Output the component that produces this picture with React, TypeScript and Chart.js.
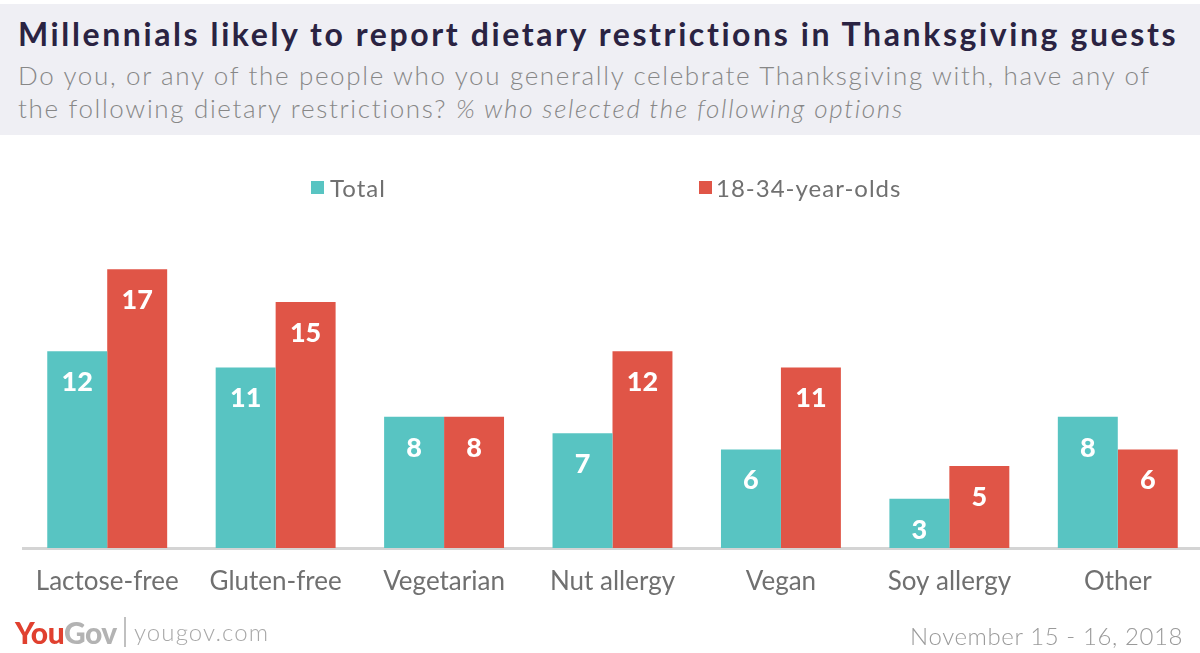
import React, { useEffect, useRef } from "react";
import { Chart, registerables } from "chart.js";

Chart.register(...registerables);

const categories = ["Lactose-free", "Gluten-free", "Vegetarian", "Nut allergy", "Vegan", "Soy allergy", "Other"];
const totalValues = [12, 11, 8, 7, 6, 3, 8];
const youngValues = [17, 15, 8, 12, 11, 5, 6];
const seriesNames = ["Total", "18-34-year-olds"];

const TEAL = "#58c4c2";
const RED = "#e05547";
const FONT = "Lato, 'Open Sans', sans-serif";

const valueLabels = {
  id: "valueLabels",
  afterDatasetsDraw(chart: any) {
    const ctx = chart.ctx;
    ctx.save();
    ctx.fillStyle = "#ffffff";
    ctx.font = `900 27px ${FONT}`;
    ctx.textAlign = "center";
    ctx.textBaseline = "middle";
    chart.data.datasets.forEach((ds: any, i: number) => {
      const meta = chart.getDatasetMeta(i);
      meta.data.forEach((bar: any, j: number) => {
        ctx.fillText(String(ds.data[j]), bar.x, bar.y + 31);
      });
    });
    ctx.restore();
  },
};

export default function App() {
  const ref = useRef<HTMLCanvasElement | null>(null);
  useEffect(() => {
    if (!ref.current) return;
    const chart = new Chart(ref.current, {
      type: "bar",
      data: {
        labels: categories,
        datasets: [
          { label: seriesNames[0], data: totalValues, backgroundColor: TEAL, borderWidth: 0 },
          { label: seriesNames[1], data: youngValues, backgroundColor: RED, borderWidth: 0 },
        ],
      },
      options: {
        responsive: false,
        animation: false,
        layout: { padding: { top: 220, left: 23, right: 0, bottom: 45 } },
        datasets: { bar: { categoryPercentage: 0.712, barPercentage: 1 } },
        plugins: { legend: { display: false }, tooltip: { enabled: false } },
        scales: {
          x: {
            grid: { display: false },
            border: { display: true, color: "#d4d4d4", width: 3 },
            ticks: { color: "#707070", font: { family: FONT, size: 26, weight: "normal" }, padding: 10 },
            afterFit: (s: any) => { s.height = 60; },
          },
          y: { display: false, min: 0, max: 20 },
        },
      },
      plugins: [valueLabels],
    });
    return () => chart.destroy();
  }, []);

  return (
    <div style={{ position: "fixed", left: 0, top: 0, width: 1200, height: 653, overflow: "hidden", background: "#fff", fontFamily: FONT }}>
      <div style={{ position: "absolute", left: 0, top: 4, width: 1200, height: 131, background: "#efeff4" }} />
      <div style={{ position: "absolute", left: 18, top: 12, fontSize: 32, fontWeight: 700, color: "#2a2342", whiteSpace: "nowrap", lineHeight: "44px", letterSpacing: 2.6 }}>
        Millennials likely to report dietary restrictions in Thanksgiving guests
      </div>
      <div style={{ position: "absolute", left: 18, top: 59, width: 1190, fontSize: 26, fontWeight: 300, color: "#878787", lineHeight: "33px", letterSpacing: 1.65, whiteSpace: "nowrap" }}>
        Do you, or any of the people who you generally celebrate Thanksgiving with, have any of<br />
        the following dietary restrictions? <i>% who selected the following options</i>
      </div>
      <canvas ref={ref} width={1202} height={653} style={{ position: "absolute", left: 0, top: 0, width: 1202, height: 653 }} />
      <div style={{ position: "absolute", left: 311, top: 173, fontSize: 24, color: "#707070", whiteSpace: "nowrap", display: "flex", alignItems: "center", letterSpacing: 1 }}>
        <span style={{ display: "inline-block", width: 13, height: 13, background: TEAL, marginRight: 6 }} />
        <span>{seriesNames[0]}</span>
      </div>
      <div style={{ position: "absolute", left: 699, top: 173, fontSize: 24, color: "#707070", whiteSpace: "nowrap", display: "flex", alignItems: "center", letterSpacing: 1 }}>
        <span style={{ display: "inline-block", width: 13, height: 13, background: RED, marginRight: 4 }} />
        <span>{seriesNames[1]}</span>
      </div>
      <div style={{ position: "absolute", left: 15, top: 614, fontSize: 30, fontWeight: 900, whiteSpace: "nowrap", letterSpacing: -0.5, lineHeight: "36px" }}>
        <span style={{ color: "#e0402f" }}>You</span><span style={{ color: "#b3b3b3" }}>Gov</span>
      </div>
      <div style={{ position: "absolute", left: 124, top: 617, width: 2, height: 30, background: "#c0c0c0" }} />
      <div style={{ position: "absolute", left: 134, top: 614, fontSize: 24, color: "#a8a8a8", whiteSpace: "nowrap", lineHeight: "36px", fontWeight: 300, letterSpacing: 1.1 }}>
        yougov.com
      </div>
      <div style={{ position: "absolute", right: 17, top: 618, fontSize: 24, color: "#9a9a9a", whiteSpace: "nowrap", lineHeight: "36px", fontWeight: 300, letterSpacing: 0.6 }}>
        November 15 - 16, 2018
      </div>
    </div>
  );
}
